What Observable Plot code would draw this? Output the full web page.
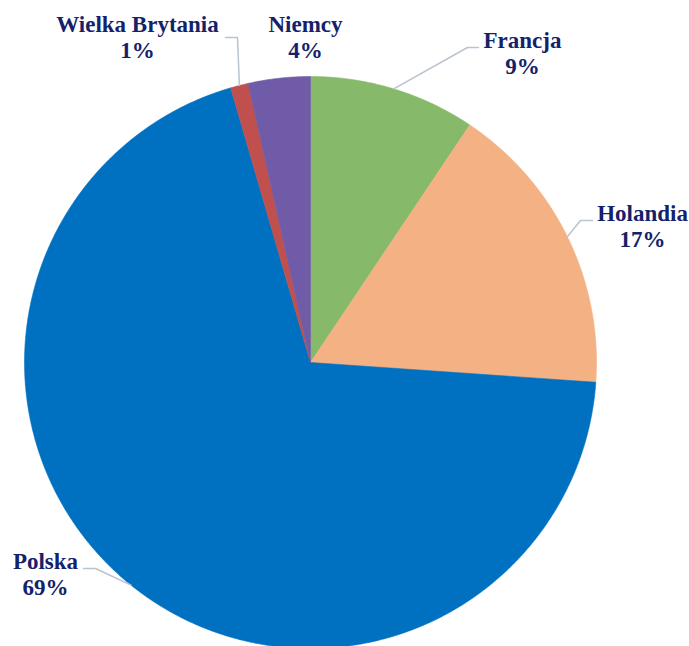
<!DOCTYPE html>
<html>
<head>
<meta charset="utf-8">
<script src="https://cdn.jsdelivr.net/npm/d3@7"></script>
<script src="https://cdn.jsdelivr.net/npm/@observablehq/plot@0.6"></script>
<style>
  html, body { margin: 0; padding: 0; background: #ffffff; }
  #chart svg { display: block; }
</style>
</head>
<body>
<div id="chart"></div>
<script>
// ---- data ----
const countries = ["Francja", "Holandia", "Polska", "Wielka Brytania", "Niemcy"];
const shares = [9.4, 16.7, 69.4, 1.0, 3.5];

// ---- styles / layout ----
const sliceColors = ["#87b96a", "#f4b183", "#0070c0", "#c0504d", "#6f5ba8"];
const W = 689, H = 646;
const CX = 310, CY = 362, R = 286;
// label placement (pixel coords): text block centre, leader elbow, leader end
const labelLayout = [
  {tx: 522, ty: 52.6, elbow: [467, 47], end: [478, 47]},
  {tx: 642, ty: 225.6, elbow: [580, 220], end: [592, 220]},
  {tx: 45, ty: 573.6, elbow: [95, 568], end: [83, 568]},
  {tx: 137, ty: 36.6, elbow: [237, 37], end: [225, 37]},
  {tx: 305, ty: 36.6, elbow: null, end: null}
];

const px = x => x - CX;        // pixel -> data x
const py = y => CY - y;        // pixel -> data y

const arcs = d3.pie().sort(null).value(d => d)(shares);

const marks = [];
arcs.forEach((a, i) => {
  const pts = [{x: 0, y: 0}];
  const n = Math.max(2, Math.ceil((a.endAngle - a.startAngle) / 0.004));
  for (let k = 0; k <= n; k++) {
    const t = a.startAngle + (a.endAngle - a.startAngle) * k / n;
    pts.push({x: R * Math.sin(t), y: R * Math.cos(t)});
  }
  pts.push({x: 0, y: 0});
  marks.push(Plot.line(pts, {x: "x", y: "y", fill: sliceColors[i], stroke: sliceColors[i], strokeWidth: 0.6, curve: "linear"}));
});

// leader lines
arcs.forEach((a, i) => {
  const L = labelLayout[i];
  if (!L.elbow) return;
  const m = (a.startAngle + a.endAngle) / 2;
  const pts = [
    {x: R * Math.sin(m), y: R * Math.cos(m)},
    {x: px(L.elbow[0]), y: py(L.elbow[1])},
    {x: px(L.end[0]), y: py(L.end[1])}
  ];
  marks.push(Plot.line(pts, {x: "x", y: "y", stroke: "#b9c3d1", strokeWidth: 1.5}));
});

// labels
const labels = countries.map((c, i) => ({
  x: px(labelLayout[i].tx),
  y: py(labelLayout[i].ty),
  text: c + "\n" + Math.round(shares[i]) + "%"
}));
marks.push(Plot.text(labels, {
  x: "x", y: "y", text: "text",
  fontSize: 23, fontWeight: "bold",
  fontFamily: "'Liberation Serif', 'Times New Roman', serif",
  fill: "#13226b", textAnchor: "middle", lineAnchor: "middle", lineHeight: 26 / 23
}));

const chart = Plot.plot({
  width: W, height: H,
  marginTop: 0, marginRight: 0, marginBottom: 0, marginLeft: 0,
  x: {axis: null, domain: [-CX, W - CX]},
  y: {axis: null, domain: [CY - H, CY]},
  style: {background: "#ffffff", overflow: "hidden"},
  marks
});
document.getElementById("chart").appendChild(chart);
</script>
</body>
</html>
